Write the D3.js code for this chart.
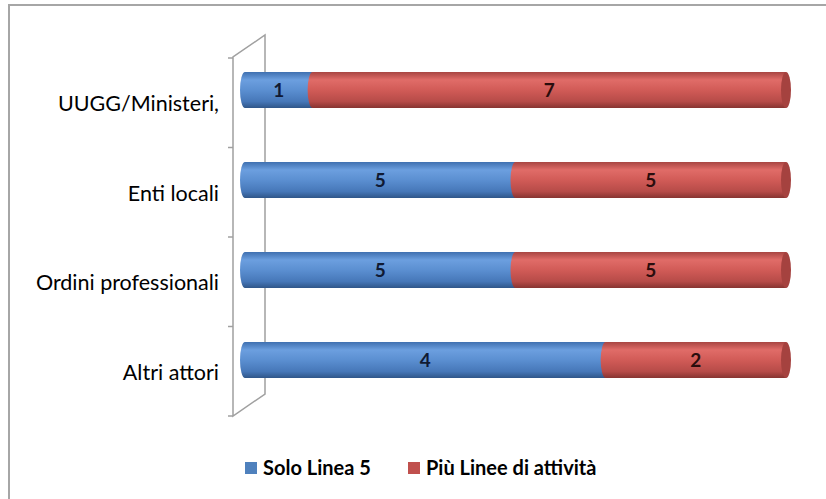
<!DOCTYPE html>
<html>
<head>
<meta charset="utf-8">
<script src="https://cdn.jsdelivr.net/npm/d3@7"></script>
<style>
  html, body { margin: 0; padding: 0; background: #fff; }
  svg { display: block; }
</style>
</head>
<body>
<svg id="chart" width="826" height="499"></svg>
<script>
// Attori coinvolti: solo Linea 5 vs più linee di attività
const categories = ["UUGG/Ministeri,", "Enti locali", "Ordini professionali", "Altri attori"];
const soloLinea5 = [1, 5, 5, 4];
const piuLinee = [7, 5, 5, 2];
const seriesNames = ["Solo Linea 5", "Più Linee di attività"];

const svg = d3.select("#chart");
const font = "Lato, 'Open Sans', sans-serif";

// chart frame
svg.append("path")
  .attr("d", "M9,499 V5 H826")
  .attr("fill", "none")
  .attr("stroke", "#a6a6a6")
  .attr("stroke-width", 2);

// gradients for cylinder shading
const defs = svg.append("defs");
const palettes = [
  ["#3f70b0", "#6c9fdf", "#5b8fd1", "#4677b8", "#2f5689"],
  ["#a84542", "#e06c68", "#d15b57", "#b64b48", "#873431"]
];
const offsets = [0, 0.22, 0.5, 0.82, 1];
palettes.forEach((p, i) => {
  const g = defs.append("linearGradient").attr("id", "cyl" + i)
    .attr("x1", 0).attr("y1", 0).attr("x2", 0).attr("y2", 1);
  p.forEach((c, k) => g.append("stop").attr("offset", offsets[k]).attr("stop-color", c));
});
const capColors = ["#3a679f", "#a5423f"];

// scales
const x = d3.scaleLinear().domain([0, 1]).range([245, 786]);
const y = d3.scaleBand().domain(categories).range([45, 405]).paddingInner(0.6).paddingOuter(0.3);
// front plane of the 3D wall
const depthX = -32, depthY = 22;
const yFront = d3.scaleBand().domain(categories).range([58, 416]);

// back wall + floor edge
const wallTop = 35, wallBottom = 394, wallX = 265;
svg.append("path")
  .attr("d", `M${wallX},${wallTop} V${wallBottom} L${wallX + depthX},${wallBottom + depthY} V${wallTop + depthY} Z`)
  .attr("fill", "none")
  .attr("stroke", "#a0a0a0")
  .attr("stroke-width", 1.5);

// front axis ticks
const tickYs = [58].concat(categories.map(c => yFront(c) + yFront.bandwidth()));
svg.append("g").selectAll("line").data(tickYs).join("line")
  .attr("x1", wallX + depthX - 5).attr("x2", wallX + depthX)
  .attr("y1", d => d).attr("y2", d => d)
  .attr("stroke", "#a0a0a0").attr("stroke-width", 1.5);

// category labels
svg.append("g").selectAll("text").data(categories).join("text")
  .attr("x", 219)
  .attr("y", d => yFront(d) + yFront.bandwidth() / 2 + 1)
  .attr("dy", "0.35em")
  .attr("text-anchor", "end")
  .attr("font-family", font)
  .attr("font-size", 21.5)
  .attr("fill", "#000")
  .text(d => d);

// stacked proportions
const rows = categories.map((c, i) => {
  const tot = soloLinea5[i] + piuLinee[i];
  const a = soloLinea5[i] / tot;
  return { cat: c, segs: [
    { s: 0, v0: 0, v1: a, val: soloLinea5[i] },
    { s: 1, v0: a, v1: 1, val: piuLinee[i] }
  ]};
});

const rx = 5;
const bars = svg.append("g");
rows.forEach(r => {
  const top = y(r.cat), h = y.bandwidth(), ry = h / 2, bot = top + h;
  r.segs.forEach(sg => {
    const x0 = x(sg.v0), x1 = x(sg.v1);
    // segment body with a rounded left end
    bars.append("path")
      .attr("d", `M${x0},${top} L${x1},${top} L${x1},${bot} L${x0},${bot} A${rx},${ry} 0 0 1 ${x0},${top} Z`)
      .attr("fill", `url(#cyl${sg.s})`);
  });
  // visible end cap of the cylinder
  const last = r.segs[r.segs.length - 1];
  bars.append("ellipse")
    .attr("cx", x(1)).attr("cy", top + ry)
    .attr("rx", rx).attr("ry", ry)
    .attr("fill", capColors[last.s]);
  // value labels
  r.segs.forEach(sg => {
    bars.append("text")
      .attr("x", (x(sg.v0) + x(sg.v1)) / 2)
      .attr("y", top + ry)
      .attr("dy", "0.35em")
      .attr("text-anchor", "middle")
      .attr("font-family", font)
      .attr("font-weight", "bold")
      .attr("font-size", 19)
      .attr("fill", sg.s === 0 ? "#101a33" : "#2a0d0d")
      .text(sg.val);
  });
});

// legend
const legendColors = ["#4f81bd", "#c0504d"];
const legendX = [245, 408];
const lg = svg.append("g");
seriesNames.forEach((n, i) => {
  lg.append("rect")
    .attr("x", legendX[i]).attr("y", 462)
    .attr("width", 12).attr("height", 12)
    .attr("fill", legendColors[i]);
  lg.append("text")
    .attr("x", legendX[i] + 18).attr("y", 468)
    .attr("dy", "0.35em")
    .attr("font-family", font)
    .attr("font-weight", "bold")
    .attr("font-size", 20)
    .attr("fill", "#000")
    .text(n);
});
</script>
</body>
</html>
